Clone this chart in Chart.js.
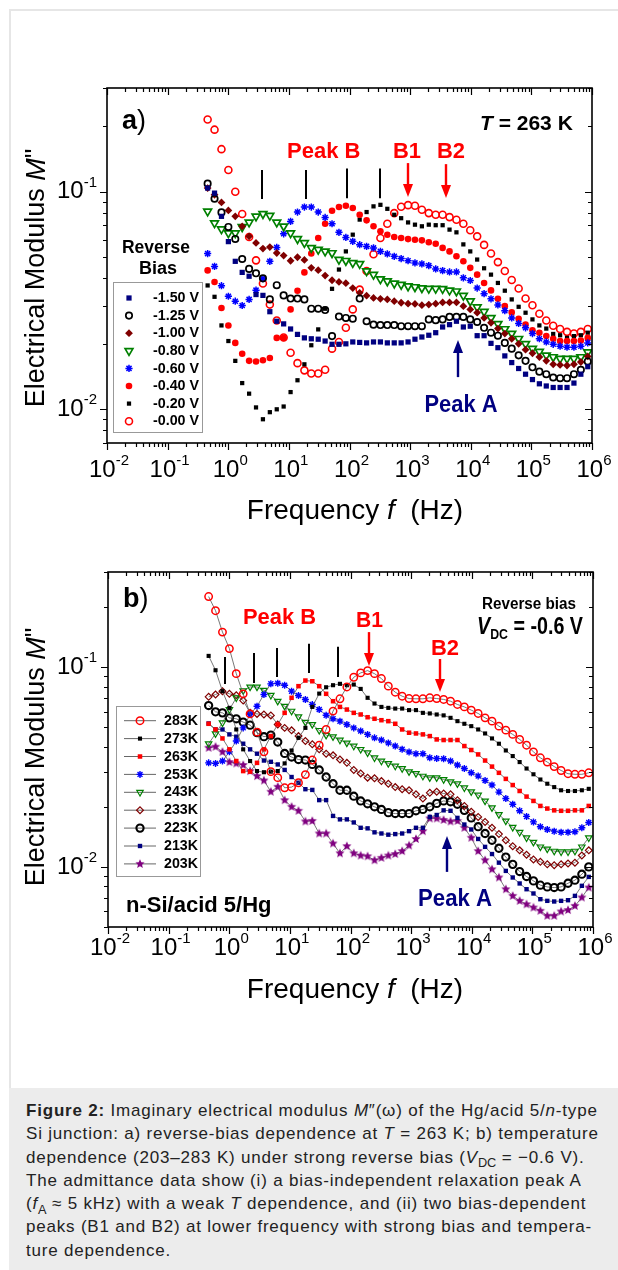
<!DOCTYPE html>
<html>
<head>
<meta charset="utf-8">
<title>Electrical modulus M''</title>
<script src="https://cdn.jsdelivr.net/npm/chart.js@4.4.1/dist/chart.umd.min.js"></script>
<style>
  html, body { margin: 0; padding: 0; background: #fff; overflow: hidden; }
  body { width: 618px; height: 1270px; position: relative; font-family: "Liberation Sans", Arial, sans-serif; }
  .frame { position: absolute; left: 9px; top: 9px; width: 620px; height: 1270px; border-left: 2px solid #e6e6e6; border-top: 2px solid #e6e6e6; }
  canvas { position: absolute; left: 0; }
  #chartA { top: 0; }
  #chartB { top: 540px; }
  .caption { position: absolute; left: 9px; top: 1088px; width: 609px; height: 182px; background: #ececec; color: #222;
             font-size: 17px; letter-spacing: 0.8px; line-height: 23.3px; padding: 11px 0 0 17px; box-sizing: border-box; white-space: nowrap; }
  .caption div { height: 23.3px; }
  .caption sub { font-size: 0.75em; line-height: 0; vertical-align: baseline; position: relative; top: 0.35em; letter-spacing: 0; }
</style>
</head>
<body>
<div class="frame"></div>
<canvas id="chartA" width="618" height="540"></canvas>
<canvas id="chartB" width="618" height="540"></canvas>
<div class="caption">
  <div><b>Figure 2:</b> Imaginary electrical modulus <i>M</i>″(ω) of the Hg/acid 5/<i>n</i>-type</div>
  <div>Si junction: a) reverse-bias dependence at <i>T</i> = 263 K; b) temperature</div>
  <div>dependence (203–283 K) under strong reverse bias (<i>V</i><sub>DC</sub> = −0.6 V).</div>
  <div>The admittance data show (i) a bias-independent relaxation peak A</div>
  <div>(<i>f</i><sub>A</sub> ≈ 5 kHz) with a weak <i>T</i> dependence, and (ii) two bias-dependent</div>
  <div>peaks (B1 and B2) at lower frequency with strong bias and tempera-</div>
  <div>ture dependence.</div>
</div>

<script>
// Frequency grid shared by both panels (Hz)
const freqHz = [0.457, 0.594, 0.773, 1.005, 1.306, 1.698, 2.208, 2.871, 3.733, 4.853,
  6.31, 8.20, 10.67, 13.87, 18.03, 23.44, 30.48, 39.63, 51.52, 66.99,
  87.1, 113.2, 147.2, 191.4, 248.9, 323.6, 420.7, 547.0, 711.2, 924.7,
  1202, 1563, 2032, 2642, 3436, 4467, 5808, 7551, 9817, 12760,
  16600, 21580, 28050, 36480, 47420, 61660, 80170, 104200, 135500, 176200,
  229100, 297800, 387300, 503500, 654600, 851100];

// Panel a) reverse bias series, T = 263 K
const biasLabels = ['-1.50 V', '-1.25 V', '-1.00 V', '-0.80 V', '-0.60 V', '-0.40 V', '-0.20 V', '-0.00 V'];
const biasM150 = [0.104, 0.0986, 0.0771, 0.0590, 0.0479, 0.0426, 0.0409, 0.0337, 0.0334, 0.0281,
  0.0254, 0.0247, 0.0234, 0.0221, 0.0213, 0.0211, 0.0210, 0.0206, 0.0199, 0.0199,
  0.0200, 0.0204, 0.0203, 0.0202, 0.0204, 0.0204, 0.0202, 0.0202, 0.0202, 0.0204,
  0.0210, 0.0215, 0.0219, 0.0225, 0.0239, 0.0245, 0.0254, 0.0239, 0.0241, 0.0218,
  0.0218, 0.0201, 0.0192, 0.0176, 0.0164, 0.0154, 0.0145, 0.0137, 0.0131, 0.0128,
  0.0126, 0.0126, 0.0126, 0.0132, 0.0145, 0.0157];
const biasM125 = [0.109, 0.0929, 0.0804, 0.0689, 0.0607, 0.0491, 0.0442, 0.0422, 0.0400, 0.0320,
  0.0372, 0.0334, 0.0323, 0.0323, 0.0320, 0.0290, 0.0290, 0.0286, 0.0217, 0.0267,
  0.0263, 0.0261, 0.0323, 0.0254, 0.0245, 0.0244, 0.0244, 0.0244, 0.0241, 0.0241,
  0.0241, 0.0241, 0.0259, 0.0257, 0.0259, 0.0266, 0.0266, 0.0266, 0.0259, 0.0252,
  0.0237, 0.0225, 0.0218, 0.0202, 0.0190, 0.0177, 0.0167, 0.0156, 0.0149, 0.0145,
  0.0140, 0.0139, 0.0139, 0.0145, 0.0152, 0.0166];
const biasM100 = [0.104, 0.0969, 0.0893, 0.0821, 0.0771, 0.0694, 0.0624, 0.0582, 0.0548, 0.0557,
  0.0523, 0.0509, 0.0482, 0.0500, 0.0486, 0.0447, 0.0436, 0.0412, 0.0392, 0.0385,
  0.0380, 0.0361, 0.0343, 0.0333, 0.0325, 0.0322, 0.0320, 0.0314, 0.0309, 0.0306,
  0.0305, 0.0301, 0.0303, 0.0306, 0.0310, 0.0310, 0.0310, 0.0298, 0.0288, 0.0278,
  0.0263, 0.0250, 0.0235, 0.0223, 0.0211, 0.0200, 0.0188, 0.0181, 0.0174, 0.0167,
  0.0161, 0.0160, 0.0159, 0.0161, 0.0165, 0.0175];
const biasM080 = [0.0813, 0.0718, 0.0674, 0.0646, 0.0646, 0.0689, 0.0723, 0.0771, 0.0791, 0.0777,
  0.0723, 0.0694, 0.0646, 0.0607, 0.0582, 0.0552, 0.0542, 0.0532, 0.0523, 0.0488,
  0.0482, 0.0471, 0.0466, 0.0432, 0.0416, 0.0397, 0.0388, 0.0379, 0.0374, 0.0368,
  0.0365, 0.0361, 0.0359, 0.0359, 0.0358, 0.0352, 0.0349, 0.0333, 0.0314, 0.0295,
  0.0281, 0.0263, 0.0247, 0.0234, 0.0223, 0.0211, 0.0200, 0.0190, 0.0184, 0.0177,
  0.0174, 0.0171, 0.0171, 0.0171, 0.0174, 0.0183];
const biasM060 = [0.0520, 0.0454, 0.0370, 0.0331, 0.0314, 0.0300, 0.0320, 0.0353, 0.0399, 0.0479,
  0.0555, 0.0641, 0.0731, 0.0807, 0.0851, 0.0851, 0.0807, 0.0762, 0.0713, 0.0651,
  0.0617, 0.0592, 0.0571, 0.0561, 0.0552, 0.0532, 0.0518, 0.0505, 0.0493, 0.0482,
  0.0471, 0.0466, 0.0458, 0.0442, 0.0434, 0.0428, 0.0428, 0.0402, 0.0391, 0.0361,
  0.0340, 0.0322, 0.0302, 0.0284, 0.0263, 0.0248, 0.0237, 0.0223, 0.0211, 0.0204,
  0.0199, 0.0195, 0.0193, 0.0193, 0.0195, 0.0202];
const biasM040 = [0.0435, 0.0385, 0.0292, 0.0243, 0.0202, 0.0180, 0.0167, 0.0166, 0.0168, 0.0172,
  0.0213, 0.0213, 0.0288, 0.0351, 0.0426, 0.0520, 0.0613, 0.0713, 0.0818, 0.0851,
  0.0863, 0.0842, 0.0784, 0.0739, 0.0694, 0.0658, 0.0635, 0.0620, 0.0613, 0.0606,
  0.0602, 0.0598, 0.0586, 0.0577, 0.0552, 0.0532, 0.0505, 0.0479, 0.0447, 0.0416,
  0.0381, 0.0352, 0.0322, 0.0298, 0.0279, 0.0261, 0.0245, 0.0231, 0.0225, 0.0217,
  0.0211, 0.0206, 0.0206, 0.0206, 0.0207, 0.0213];
const biasM020 = [0.0371, 0.0329, 0.0243, 0.0206, 0.0167, 0.0132, 0.0118, 0.0102, 0.0090, 0.0097,
  0.0100, 0.0103, 0.0120, 0.0136, 0.0161, 0.0197, 0.0233, 0.0290, 0.0358, 0.0439,
  0.0532, 0.0635, 0.0745, 0.0807, 0.0857, 0.0871, 0.0835, 0.0784, 0.0756, 0.0723,
  0.0706, 0.0694, 0.0706, 0.0702, 0.0702, 0.0670, 0.0651, 0.0573, 0.0532, 0.0488,
  0.0445, 0.0416, 0.0381, 0.0351, 0.0320, 0.0296, 0.0278, 0.0259, 0.0243, 0.0235,
  0.0222, 0.0219, 0.0213, 0.0217, 0.0219, 0.0225];
const biasM000 = [0.215, 0.193, 0.157, 0.126, 0.100, 0.079, 0.062, 0.0484, 0.0379, 0.0303,
  0.0256, 0.0214, 0.0182, 0.0163, 0.0151, 0.0146, 0.0146, 0.0152, 0.0190, 0.0204,
  0.0237, 0.0288, 0.0355, 0.0432, 0.0516, 0.0613, 0.0713, 0.0798, 0.0853, 0.0868,
  0.0863, 0.0827, 0.0798, 0.0784, 0.0784, 0.0765, 0.0744, 0.0713, 0.0665, 0.0624,
  0.0570, 0.0520, 0.0475, 0.0432, 0.0393, 0.0359, 0.0323, 0.0301, 0.0275, 0.0256,
  0.0242, 0.0234, 0.0227, 0.0223, 0.0227, 0.0234];

// Panel b) temperature series, V_DC = -0.6 V
const tempLabels = ['283K', '273K', '263K', '253K', '243K', '233K', '223K', '213K', '203K'];
const tempM283 = [0.226, 0.192, 0.150, 0.124, 0.0929, 0.0736, 0.0584, 0.0473, 0.0377, 0.0300,
  0.0280, 0.0249, 0.0251, 0.0264, 0.0290, 0.0343, 0.0407, 0.0488, 0.0603, 0.0695,
  0.0797, 0.0891, 0.0937, 0.0962, 0.0929, 0.0878, 0.0804, 0.0750, 0.0716, 0.0697,
  0.0695, 0.0695, 0.0703, 0.0697, 0.0690, 0.0676, 0.0651, 0.0633, 0.0610, 0.0587,
  0.0558, 0.0537, 0.0507, 0.0484, 0.0461, 0.0435, 0.0407, 0.0377, 0.0352, 0.0335,
  0.0318, 0.0304, 0.0293, 0.0291, 0.0291, 0.0296];
const tempM273 = [0.114, 0.0966, 0.0759, 0.0626, 0.0488, 0.0388, 0.0339, 0.0302, 0.0298, 0.0300,
  0.0302, 0.0330, 0.0383, 0.0443, 0.0497, 0.0633, 0.0738, 0.0794, 0.0813, 0.0826,
  0.0813, 0.0819, 0.0779, 0.0703, 0.0658, 0.0633, 0.0626, 0.0621, 0.0621, 0.0610,
  0.0610, 0.0591, 0.0587, 0.0580, 0.0574, 0.0558, 0.0537, 0.0521, 0.0507, 0.0488,
  0.0466, 0.0440, 0.0414, 0.0383, 0.0359, 0.0335, 0.0311, 0.0291, 0.0274, 0.0261,
  0.0251, 0.0242, 0.0240, 0.0240, 0.0242, 0.0246];
const tempM263 = [0.0521, 0.0488, 0.0440, 0.0388, 0.0339, 0.0302, 0.0300, 0.0332, 0.0388, 0.0452,
  0.0517, 0.0591, 0.0703, 0.0804, 0.0858, 0.0851, 0.0804, 0.0736, 0.0676, 0.0633,
  0.0614, 0.0591, 0.0580, 0.0562, 0.0552, 0.0543, 0.0537, 0.0521, 0.0488, 0.0470,
  0.0466, 0.0461, 0.0452, 0.0435, 0.0432, 0.0432, 0.0432, 0.0403, 0.0385, 0.0366,
  0.0341, 0.0318, 0.0296, 0.0276, 0.0257, 0.0240, 0.0225, 0.0214, 0.0202, 0.0196,
  0.0192, 0.0191, 0.0191, 0.0192, 0.0192, 0.0202];
const tempM253 = [0.0332, 0.0330, 0.0339, 0.0377, 0.0427, 0.0497, 0.0580, 0.0638, 0.0730, 0.0826,
  0.0832, 0.0813, 0.0759, 0.0722, 0.0690, 0.0651, 0.0614, 0.0575, 0.0552, 0.0537,
  0.0517, 0.0497, 0.0479, 0.0461, 0.0443, 0.0432, 0.0418, 0.0403, 0.0388, 0.0376,
  0.0369, 0.0369, 0.0352, 0.0349, 0.0348, 0.0339, 0.0324, 0.0311, 0.0296, 0.0285,
  0.0271, 0.0257, 0.0237, 0.0220, 0.0206, 0.0191, 0.0179, 0.0168, 0.0159, 0.0154,
  0.0151, 0.0149, 0.0149, 0.0150, 0.0157, 0.0167];
const tempM243 = [0.0414, 0.0465, 0.0527, 0.0614, 0.0703, 0.0764, 0.0797, 0.0797, 0.0767, 0.0724,
  0.0676, 0.0638, 0.0603, 0.0565, 0.0531, 0.0517, 0.0483, 0.0457, 0.0449, 0.0432,
  0.0418, 0.0403, 0.0388, 0.0373, 0.0352, 0.0339, 0.0330, 0.0320, 0.0311, 0.0300,
  0.0294, 0.0285, 0.0280, 0.0280, 0.0274, 0.0267, 0.0261, 0.0249, 0.0238, 0.0229,
  0.0214, 0.0198, 0.0183, 0.0170, 0.0158, 0.0149, 0.0140, 0.0133, 0.0126, 0.0123,
  0.0120, 0.0119, 0.0119, 0.0120, 0.0126, 0.0140];
const tempM233 = [0.0711, 0.0730, 0.0759, 0.0736, 0.0724, 0.0681, 0.0591, 0.0584, 0.0580, 0.0574,
  0.0517, 0.0497, 0.0483, 0.0452, 0.0427, 0.0411, 0.0388, 0.0369, 0.0362, 0.0345,
  0.0332, 0.0306, 0.0294, 0.0280, 0.0278, 0.0269, 0.0261, 0.0251, 0.0245, 0.0242,
  0.0231, 0.0220, 0.0235, 0.0238, 0.0233, 0.0231, 0.0216, 0.0202, 0.0189, 0.0178,
  0.0168, 0.0157, 0.0146, 0.0136, 0.0127, 0.0121, 0.0115, 0.0109, 0.0106, 0.0103,
  0.0102, 0.0103, 0.0104, 0.0105, 0.0114, 0.0121];
const tempM223 = [0.0643, 0.0598, 0.0591, 0.0558, 0.0552, 0.0531, 0.0513, 0.0470, 0.0449, 0.0457,
  0.0422, 0.0370, 0.0355, 0.0345, 0.0343, 0.0326, 0.0306, 0.0282, 0.0261, 0.0242,
  0.0242, 0.0226, 0.0214, 0.0207, 0.0200, 0.0194, 0.0187, 0.0185, 0.0185, 0.0185,
  0.0191, 0.0194, 0.0200, 0.0208, 0.0214, 0.0212, 0.0206, 0.0192, 0.0176, 0.0159,
  0.0147, 0.0136, 0.0124, 0.0112, 0.0103, 0.00948, 0.00895, 0.00851, 0.00810, 0.00794,
  0.00788, 0.00794, 0.00828, 0.00858, 0.00919, 0.0100];
const tempM213 = [0.0523, 0.0488, 0.0488, 0.0461, 0.0449, 0.0414, 0.0388, 0.0369, 0.0341, 0.0336,
  0.0326, 0.0306, 0.0282, 0.0264, 0.0245, 0.0243, 0.0216, 0.0216, 0.0180, 0.0173,
  0.0173, 0.0167, 0.0157, 0.0156, 0.0149, 0.0147, 0.0145, 0.0146, 0.0147, 0.0151,
  0.0157, 0.0157, 0.0178, 0.0182, 0.0192, 0.0191, 0.0176, 0.0163, 0.0154, 0.0138,
  0.0126, 0.0116, 0.0105, 0.00955, 0.00885, 0.00826, 0.00773, 0.00736, 0.00689, 0.00676,
  0.00671, 0.00676, 0.00681, 0.00716, 0.00804, 0.00891];
const tempM203 = [0.0395, 0.0400, 0.0377, 0.0335, 0.0330, 0.0324, 0.0302, 0.0285, 0.0271, 0.0238,
  0.0252, 0.0216, 0.0200, 0.0191, 0.0169, 0.0170, 0.0147, 0.0147, 0.0131, 0.0117,
  0.0127, 0.0117, 0.0114, 0.0113, 0.0108, 0.0111, 0.0114, 0.0116, 0.0120, 0.0128,
  0.0138, 0.0151, 0.0175, 0.0175, 0.0172, 0.0169, 0.0170, 0.0157, 0.0140, 0.0120,
  0.0108, 0.00973, 0.00885, 0.00773, 0.00716, 0.00676, 0.00650, 0.00626, 0.00603, 0.00569,
  0.00569, 0.00598, 0.00608, 0.00638, 0.00703, 0.00788];

// Axis decades
const xTickExps = [-2, -1, 0, 1, 2, 3, 4, 5, 6];
const yTickExps = [-2, -1];

const FONT = '"Liberation Sans", Arial, sans-serif';
const f = (spec) => spec + ' ' + FONT;

// 5-point star marker for 203K
function makeStar(color, r) {
    const c = document.createElement('canvas');
    const s = Math.ceil(r * 2 + 2);
    c.width = c.height = s;
    const g = c.getContext('2d');
    g.fillStyle = color;
    g.beginPath();
    for (let i = 0; i < 10; i++) {
        const rr = i % 2 ? r * 0.45 : r;
        const ang = -Math.PI / 2 + i * Math.PI / 5;
        const px = s / 2 + rr * Math.cos(ang), py = s / 2 + rr * Math.sin(ang);
        if (i === 0) g.moveTo(px, py); else g.lineTo(px, py);
    }
    g.closePath();
    g.fill();
    return c;
}

const NONE = 'rgba(0,0,0,0)';
const biasStyles = [
    { pointStyle: 'rect', radius: 3.7, fill: '#000080', stroke: '#000080', width: 0 },
    { pointStyle: 'circle', radius: 3.2, fill: NONE, stroke: '#000000', width: 1.7 },
    { pointStyle: 'rectRot', radius: 3.9, fill: '#800000', stroke: '#800000', width: 0 },
    { pointStyle: 'triangle', rotation: 180, radius: 4.5, fill: NONE, stroke: '#008000', width: 1.7 },
    { pointStyle: 'star', radius: 3.6, fill: NONE, stroke: '#0000ff', width: 1.5 },
    { pointStyle: 'circle', radius: 3.3, fill: '#ff0000', stroke: '#ff0000', width: 0 },
    { pointStyle: 'rect', radius: 3.0, fill: '#000000', stroke: '#000000', width: 0 },
    { pointStyle: 'circle', radius: 3.5, fill: NONE, stroke: '#ff0000', width: 1.6 }
];
const tempStyles = [
    { pointStyle: 'circle', radius: 3.7, fill: NONE, stroke: '#ff0000', width: 1.5 },
    { pointStyle: 'rect', radius: 2.9, fill: '#000000', stroke: '#000000', width: 0 },
    { pointStyle: 'rect', radius: 3.2, fill: '#ff0000', stroke: '#ff0000', width: 0 },
    { pointStyle: 'star', radius: 3.5, fill: NONE, stroke: '#0000ff', width: 1.4 },
    { pointStyle: 'triangle', rotation: 180, radius: 3.7, fill: NONE, stroke: '#008000', width: 1.2 },
    { pointStyle: 'rectRot', radius: 3.4, fill: NONE, stroke: '#800000', width: 1.2 },
    { pointStyle: 'circle', radius: 3.6, fill: NONE, stroke: '#000000', width: 2.1 },
    { pointStyle: 'rect', radius: 3.1, fill: '#000080', stroke: '#000080', width: 0 },
    { pointStyle: makeStar('#800080', 4.8), radius: 4.8, fill: '#800080', stroke: '#800080', width: 0 }
];

function buildDataset(label, values, style, withLine) {
    return {
        label: label,
        data: values.map((v, i) => ({ x: freqHz[i], y: v })),
        showLine: withLine,
        borderColor: '#555555',
        borderWidth: withLine ? 0.8 : 0,
        pointStyle: style.pointStyle,
        pointRotation: style.rotation || 0,
        pointRadius: style.radius,
        pointHoverRadius: style.radius,
        pointBackgroundColor: style.fill,
        pointBorderColor: style.stroke,
        pointBorderWidth: style.width
    };
}

// draw a run of text pieces: [text, font, dy]
function drawParts(ctx, parts, x, y, align, maxW) {
    let w = 0;
    parts.forEach(p => { ctx.font = p[1]; w += ctx.measureText(p[0]).width; });
    const k = maxW && w > maxW ? maxW / w : 1;
    ctx.save();
    ctx.textBaseline = 'middle';
    ctx.textAlign = 'left';
    let x0 = align === 'center' ? x - w * k / 2 : align === 'right' ? x - w * k : x;
    ctx.translate(x0, y);
    ctx.scale(k, 1);
    let cx = 0;
    parts.forEach(p => {
        ctx.font = p[1];
        ctx.fillText(p[0], cx, p[2] || 0);
        cx += ctx.measureText(p[0]).width;
    });
    ctx.restore();
}

function drawArrow(ctx, x, yFrom, yTip, color) {
    const dir = yTip > yFrom ? 1 : -1;
    ctx.save();
    ctx.strokeStyle = color;
    ctx.fillStyle = color;
    ctx.lineWidth = 2.4;
    ctx.beginPath();
    ctx.moveTo(x, yFrom);
    ctx.lineTo(x, yTip - dir * 10);
    ctx.stroke();
    ctx.beginPath();
    ctx.moveTo(x, yTip);
    ctx.lineTo(x - 5, yTip - dir * 13);
    ctx.lineTo(x + 5, yTip - dir * 13);
    ctx.closePath();
    ctx.fill();
    ctx.restore();
}

function drawMarker(ctx, style, x, y) {
    ctx.save();
    ctx.fillStyle = style.fill;
    ctx.strokeStyle = style.stroke;
    ctx.lineWidth = style.width;
    Chart.helpers.drawPoint(ctx, {
        pointStyle: style.pointStyle, radius: style.radius,
        rotation: style.rotation || 0, borderWidth: style.width
    }, x, y);
    ctx.restore();
}

// frame, ticks on all four sides, tick labels, axis titles
function drawAxes(chart, lay) {
    const { ctx, chartArea: a } = chart;
    const xs = chart.scales.x, ys = chart.scales.y;
    ctx.save();
    ctx.strokeStyle = '#000';
    ctx.lineWidth = 1.6;
    ctx.strokeRect(a.left, a.top, a.right - a.left, a.bottom - a.top);
    ctx.lineWidth = 1.2;
    ctx.beginPath();
    xTickExps.forEach(e => {
        for (let m = 1; m <= 9; m++) {
            const v = m * Math.pow(10, e);
            if (v > xs.max * 1.0001) break;
            const px = Math.round(xs.getPixelForValue(v)) + 0.5;
            const len = m === 1 ? 7 : 4;
            ctx.moveTo(px, a.bottom); ctx.lineTo(px, a.bottom + len);
            ctx.moveTo(px, a.top); ctx.lineTo(px, a.top + len);
        }
    });
    for (let e = Math.floor(Math.log10(ys.min)); e <= Math.ceil(Math.log10(ys.max)); e++) {
        for (let m = 1; m <= 9; m++) {
            const v = m * Math.pow(10, e);
            if (v < ys.min * 0.9999 || v > ys.max * 1.0001) continue;
            const py = Math.round(ys.getPixelForValue(v)) + 0.5;
            const len = m === 1 ? 7 : 4;
            ctx.moveTo(a.left - len, py); ctx.lineTo(a.left, py);
            ctx.moveTo(a.right - len, py); ctx.lineTo(a.right, py);
        }
    }
    ctx.stroke();
    ctx.fillStyle = '#000';
    xTickExps.forEach(e => {
        drawParts(ctx, [['10', f('24px')], [String(e), f('15px'), -9]],
            xs.getPixelForValue(Math.pow(10, e)) + 2, lay.xLabelY, 'center');
    });
    yTickExps.forEach(e => {
        drawParts(ctx, [['10', f('24px')], [String(e), f('15px'), -9]],
            97, ys.getPixelForValue(Math.pow(10, e)), 'right');
    });
    drawParts(ctx, [['Frequency ', f('28px')], ['f', f('italic 28px')], ['  (Hz)', f('28px')]],
        355, lay.xTitleY, 'center');
    ctx.save();
    ctx.translate(37, lay.yTitleY);
    ctx.rotate(-Math.PI / 2);
    drawParts(ctx, [['Electrical Modulus ', f('27px')], ['M', f('italic 27px')], ['"', f('27px')]], 0, 0, 'center');
    ctx.restore();
    ctx.restore();
}

function drawPeakLines(chart, freqs, ranges) {
    const { ctx } = chart;
    const xs = chart.scales.x, ys = chart.scales.y;
    ctx.save();
    ctx.strokeStyle = '#000';
    ctx.lineWidth = 2;
    ctx.beginPath();
    freqs.forEach((fq, i) => {
        const px = Math.round(xs.getPixelForValue(fq));
        ctx.moveTo(px, ys.getPixelForValue(ranges[i][1]));
        ctx.lineTo(px, ys.getPixelForValue(ranges[i][0]));
    });
    ctx.stroke();
    ctx.restore();
}

const panelA = {
    id: 'panelA',
    afterDatasetsDraw(chart) {
        const { ctx } = chart;
        const xs = chart.scales.x, ys = chart.scales.y;
        drawAxes(chart, { xLabelY: 470, xTitleY: 511, yTitleY: 278 });
        ctx.save();
        ctx.fillStyle = '#000';
        drawParts(ctx, [['a', f('bold 27px')], [')', f('27px')]], 122, 122, 'left');
        drawParts(ctx, [['T', f('italic bold 21px')], [' = 263 K', f('bold 21px')]], 480, 124, 'left', 93);
        drawPeakLines(chart, [3.6, 19, 91, 318], [[0.0927, 0.126], [0.0927, 0.126], [0.0935, 0.128], [0.0935, 0.128]]);
        ctx.fillStyle = '#ff0000';
        drawParts(ctx, [['Peak B', f('bold 22px')]], 287, 152, 'left', 74);
        drawParts(ctx, [['B1', f('bold 22px')]], 393, 152, 'left', 28);
        drawParts(ctx, [['B2', f('bold 22px')]], 437, 152, 'left', 28);
        drawArrow(ctx, Math.round(xs.getPixelForValue(923)), ys.getPixelForValue(0.1355), ys.getPixelForValue(0.0946), '#ff0000');
        drawArrow(ctx, Math.round(xs.getPixelForValue(3910)), ys.getPixelForValue(0.134), ys.getPixelForValue(0.0936), '#ff0000');
        drawArrow(ctx, Math.round(xs.getPixelForValue(6100)), ys.getPixelForValue(0.01406), ys.getPixelForValue(0.02085), '#000080');
        ctx.fillStyle = '#000080';
        drawParts(ctx, [['Peak A', f('bold 24px')]], 461, 405, 'center', 73);

        // legend
        ctx.fillStyle = '#000';
        drawParts(ctx, [['Reverse', f('bold 18px')]], 156, 248, 'center', 68);
        drawParts(ctx, [['Bias', f('bold 18px')]], 158, 269, 'center');
        ctx.fillStyle = '#fff';
        ctx.fillRect(113.5, 282.5, 89, 150);
        ctx.strokeStyle = '#999';
        ctx.lineWidth = 1;
        ctx.strokeRect(113.5, 282.5, 89, 150);
        biasLabels.forEach((lab, i) => {
            const y = 298 + i * 17.6;
            drawMarker(ctx, biasStyles[i], 129, y);
            ctx.fillStyle = '#000';
            drawParts(ctx, [[lab, f('bold 15px')]], 153, y, 'left', 46);
        });
        ctx.restore();
    }
};

const panelB = {
    id: 'panelB',
    afterDatasetsDraw(chart) {
        const { ctx } = chart;
        const xs = chart.scales.x, ys = chart.scales.y;
        drawAxes(chart, { xLabelY: 408, xTitleY: 450, yTitleY: 217 });
        ctx.save();
        ctx.fillStyle = '#000';
        drawParts(ctx, [['b', f('bold 27px')], [')', f('27px')]], 123, 60, 'left');
        drawParts(ctx, [['Reverse bias', f('bold 16px')]], 482, 65, 'left', 94);
        drawParts(ctx, [['V', f('italic bold 24px')], ['DC', f('bold 15px'), 8], [' = -0.6 V', f('bold 24px')]], 477, 87, 'left', 106);
        drawParts(ctx, [['n-Si/acid 5/Hg', f('bold 22px')]], 126, 366, 'left', 147);
        drawPeakLines(chart, [0.85, 2.56, 6.1, 20.6, 62],
            [[0.0824, 0.1126], [0.0834, 0.1179], [0.0894, 0.125], [0.0935, 0.131], [0.0894, 0.1265]]);
        ctx.fillStyle = '#ff0000';
        drawParts(ctx, [['Peak B', f('bold 22px')]], 243, 78, 'left', 73);
        drawParts(ctx, [['B1', f('bold 22px')]], 356, 81, 'left', 27);
        drawParts(ctx, [['B2', f('bold 22px')]], 431, 109, 'left', 28);
        drawArrow(ctx, Math.round(xs.getPixelForValue(202)), ys.getPixelForValue(0.150), ys.getPixelForValue(0.1015), '#ff0000');
        drawArrow(ctx, Math.round(xs.getPixelForValue(2990)), ys.getPixelForValue(0.110), ys.getPixelForValue(0.0752), '#ff0000');
        drawArrow(ctx, Math.round(xs.getPixelForValue(3900)), ys.getPixelForValue(0.00944), ys.getPixelForValue(0.0143), '#000080');
        ctx.fillStyle = '#000080';
        drawParts(ctx, [['Peak A', f('bold 24px')]], 455, 359, 'center', 74);

        // legend
        ctx.fillStyle = '#fff';
        ctx.fillRect(116.5, 166.5, 84, 170);
        ctx.strokeStyle = '#999';
        ctx.lineWidth = 1;
        ctx.strokeRect(116.5, 166.5, 84, 170);
        tempLabels.forEach((lab, i) => {
            const y = 180.7 + i * 17.9;
            ctx.strokeStyle = '#555';
            ctx.lineWidth = 0.9;
            ctx.beginPath();
            ctx.moveTo(124, y); ctx.lineTo(156, y);
            ctx.stroke();
            drawMarker(ctx, tempStyles[i], 140, y);
            ctx.fillStyle = '#000';
            drawParts(ctx, [[lab, f('bold 15px')]], 164, y, 'left', 34);
        });
        ctx.restore();
    }
};

function makeOptions(yMin, pad) {
    const hidden = {
        type: 'logarithmic',
        ticks: { display: false },
        grid: { display: false },
        border: { display: false }
    };
    return {
        responsive: false,
        animation: false,
        events: [],
        layout: { padding: pad },
        plugins: { legend: { display: false }, tooltip: { enabled: false } },
        scales: {
            x: Object.assign({}, hidden, { min: 0.01, max: 1e6, afterFit(s) { s.height = 0; } }),
            y: Object.assign({}, hidden, { min: yMin, max: 0.3, afterFit(s) { s.width = 0; } })
        }
    };
}

const biasSeries = [biasM150, biasM125, biasM100, biasM080, biasM060, biasM040, biasM020, biasM000];
const tempSeries = [tempM283, tempM273, tempM263, tempM253, tempM243, tempM233, tempM223, tempM213, tempM203];

new Chart(document.getElementById('chartA'), {
    type: 'scatter',
    data: { datasets: biasSeries.map((s, i) => buildDataset(biasLabels[i], s, biasStyles[i], false)) },
    options: makeOptions(0.007, { left: 107, right: 26, top: 88, bottom: 97 }),
    plugins: [panelA]
});

new Chart(document.getElementById('chartB'), {
    type: 'scatter',
    data: { datasets: tempSeries.map((s, i) => buildDataset(tempLabels[i], s, tempStyles[i], true)) },
    options: makeOptions(0.005, { left: 108, right: 25, top: 32, bottom: 153 }),
    plugins: [panelB]
});
</script>
</body>
</html>
